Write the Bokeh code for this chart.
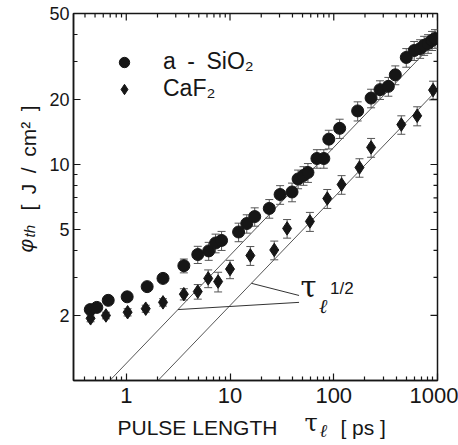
import numpy as np
from bokeh.plotting import figure
from bokeh.models import (Range1d, FixedTicker, BasicTickFormatter, ColumnDataSource,
                          Whisker, TeeHead, Label, Legend, LegendItem)
from bokeh.embed import file_html
from bokeh.resources import INLINE

# ---------------- data ----------------
sio2_tau = [0.45, 0.52, 0.67, 1.02, 1.59, 2.26, 3.59, 4.89, 6.23, 7.26, 8.29, 12.1, 14.5, 17.3,
            23.9, 30.4, 39.6, 45.3, 51.1, 56.4, 68.8, 80.2, 89.6, 114, 170, 229, 279, 336, 392,
            500, 596, 680, 743, 811, 886, 946]
sio2_phi = [2.13, 2.18, 2.35, 2.44, 2.72, 2.97, 3.40, 3.83, 3.98, 4.33, 4.45, 4.87, 5.33, 5.74,
            6.26, 7.26, 7.46, 8.57, 8.89, 9.18, 10.66, 10.66, 13.1, 14.7, 17.7, 20.3, 22.2, 23.0,
            26.0, 31.3, 33.7, 34.4, 35.6, 36.3, 37.5, 38.3]
sio2_err = [0.08, 0.08, 0.09, 0.09, 0.11, 0.12, 0.25, 0.35, 0.38, 0.43, 0.45, 0.48, 0.52, 0.56,
            0.62, 0.72, 0.74, 0.85, 0.88, 0.92, 1.05, 1.05, 1.3, 1.5, 1.8, 2.0, 2.2, 2.3,
            2.6, 3.1, 3.4, 3.4, 3.6, 3.6, 3.8, 3.8]

caf2_tau = [0.453, 0.637, 1.03, 1.54, 2.26, 3.59, 4.89, 6.16, 7.68, 10.0, 15.7, 26.7, 35.5,
            58.9, 86.6, 119, 177, 229, 448, 637, 906]
caf2_phi = [1.94, 2.00, 2.07, 2.15, 2.30, 2.51, 2.58, 2.97, 2.87, 3.28, 3.79, 4.02, 5.06,
            5.45, 6.96, 8.08, 9.68, 12.0, 15.3, 16.8, 22.1]
caf2_err = [0.07, 0.07, 0.08, 0.08, 0.09, 0.15, 0.2, 0.28, 0.3, 0.32, 0.38, 0.4, 0.5,
            0.55, 0.7, 0.8, 0.95, 1.2, 1.5, 1.7, 2.2]

# tau^(1/2) guide lines: phi = coef * sqrt(tau)
fit_coef_sio2 = 1.2
fit_coef_caf2 = 0.703
fit_tau = [0.3, 1000]

# pointer lines of the "tau^(1/2)" note
note_start_tau = [16.07, 3.15]
note_end_tau = [46.3, 46.3]
note_end_phi = [2.475, 2.30]

x_range = (0.31, 1000)
y_range = (1, 50)
x_major = [1, 10, 100, 1000]
x_minor = [0.4, 0.5, 0.6, 0.7, 0.8, 0.9, 2, 3, 4, 5, 6, 7, 8, 9,
           20, 30, 40, 50, 60, 70, 80, 90, 200, 300, 400, 500, 600, 700, 800, 900]
y_major = [2, 5, 10, 20, 50]
y_minor = [3, 4, 6, 7, 8, 9, 30, 40]

FONT = "Liberation Sans"
INK = "#161616"
EN = "\u2002"
EM = "\u2003"

p = figure(width=458, height=445, x_axis_type="log", y_axis_type="log",
           x_range=Range1d(*x_range), y_range=Range1d(*y_range),
           output_backend="svg", toolbar_location=None,
           min_border_left=72, min_border_right=21, min_border_top=13, min_border_bottom=65)
p.grid.visible = False
p.outline_line_color = INK
p.outline_line_width = 1.5


def style_axis(ax, major, minor, size, standoff):
    ax.ticker = FixedTicker(ticks=major, minor_ticks=minor)
    ax.formatter = BasicTickFormatter()
    ax.major_tick_in = 7
    ax.major_tick_out = 0
    ax.minor_tick_in = 4
    ax.minor_tick_out = 0
    ax.axis_line_color = INK
    ax.axis_line_width = 1.5
    ax.major_tick_line_color = INK
    ax.minor_tick_line_color = INK
    ax.major_tick_line_width = 1.2
    ax.minor_tick_line_width = 1.2
    ax.major_label_text_font = FONT
    ax.major_label_text_font_size = size
    ax.major_label_text_color = INK
    ax.major_label_standoff = standoff


style_axis(p.xaxis[0], x_major, x_minor, "22px", 7)
style_axis(p.yaxis[0], y_major, y_minor, "18px", 4)

# inward ticks on the top and right edges of the frame
tick_kw = dict(length_units="screen", line_color=INK, line_width=1.2)
p.ray(x=x_major, y=[y_range[1]] * len(x_major), length=7, angle=-np.pi / 2, **tick_kw)
p.ray(x=x_minor, y=[y_range[1]] * len(x_minor), length=4, angle=-np.pi / 2, **tick_kw)
p.ray(x=[x_range[1]] * len(y_major), y=y_major, length=7, angle=np.pi, **tick_kw)
p.ray(x=[x_range[1]] * len(y_minor), y=y_minor, length=4, angle=np.pi, **tick_kw)

# guide lines
p.line(fit_tau, [fit_coef_sio2 * np.sqrt(t) for t in fit_tau], line_color="#555555", line_width=1)
p.line(fit_tau, [fit_coef_caf2 * np.sqrt(t) for t in fit_tau], line_color="#555555", line_width=1)

# error bars
src_s = ColumnDataSource(dict(x=sio2_tau, y=sio2_phi,
                              lo=[a - b for a, b in zip(sio2_phi, sio2_err)],
                              hi=[a + b for a, b in zip(sio2_phi, sio2_err)]))
src_c = ColumnDataSource(dict(x=caf2_tau, y=caf2_phi,
                              lo=[a - b for a, b in zip(caf2_phi, caf2_err)],
                              hi=[a + b for a, b in zip(caf2_phi, caf2_err)]))
for src in (src_s, src_c):
    w = Whisker(base="x", lower="lo", upper="hi", source=src, dimension="height",
                line_color="#555555", line_width=1,
                lower_head=TeeHead(size=8, line_color="#555555", line_width=1),
                upper_head=TeeHead(size=8, line_color="#555555", line_width=1))
    p.add_layout(w)

r_s = p.scatter("x", "y", source=src_s, marker="circle", size=12, fill_color=INK, line_color=INK)
r_c = p.scatter("x", "y", source=src_c, marker="diamond", size=13.5,
                fill_color=INK, line_color=INK)

# note pointer lines
p.segment(x0=note_start_tau,
          y0=[fit_coef_caf2 * np.sqrt(note_start_tau[0]), fit_coef_sio2 * np.sqrt(note_start_tau[1])],
          x1=note_end_tau, y1=note_end_phi, line_color="#333333", line_width=1)

# note text tau_l^(1/2)
p.add_layout(Label(x=47.8, y=2.27, text="τ", text_font="DejaVu Serif", text_font_size="29px",
                   text_color=INK))
p.add_layout(Label(x=72.0, y=1.94, text="ℓ", text_font="DejaVu Serif", text_font_style="italic",
                   text_font_size="20px", text_color=INK))
p.add_layout(Label(x=92.0, y=2.40, text="1/2", text_font=FONT, text_font_size="17px",
                   text_color=INK))

# legend
legend = Legend(items=[LegendItem(label="a" + EN + "-" + EN + "SiO₂", renderers=[r_s]),
                       LegendItem(label="CaF₂", renderers=[r_c])],
                location="top_left", margin=35, padding=7, spacing=0,
                glyph_width=32, glyph_height=26, label_height=26, label_standoff=23,
                label_text_font=FONT, label_text_font_size="23px", label_text_color=INK,
                border_line_color=None, background_fill_alpha=0)
p.add_layout(legend)


# axis titles: labels kept in the side panels (not clipped), placed in canvas pixels
def clabel(side, x, y, text, size, font=FONT, style="normal", angle=0):
    p.add_layout(Label(x=x, y=y, x_units="canvas", y_units="canvas", text=text,
                       text_font=font, text_font_size=size, text_font_style=style,
                       text_color=INK, angle=angle, text_baseline="alphabetic",
                       text_align="left"), side)


clabel("below", 117, 427, "PULSE LENGTH" + EM + EM + EM + "[ ps ]", "21px")
clabel("right", 304, 422, "τ", "24px", font="DejaVu Serif")
clabel("right", 319, 430, "ℓ", "18px", font="DejaVu Serif", style="italic")
clabel("left", 28, 210, "[" + EN + "J" + EN + "/" + EN + "cm²" + EN + "]", "21px", angle=np.pi / 2)
clabel("left", 25, 252, "φ", "21px", style="italic", angle=np.pi / 2)
clabel("above", 29, 237, "th", "15px", style="italic", angle=np.pi / 2)

open("out.html", "w").write(file_html(p, INLINE))
